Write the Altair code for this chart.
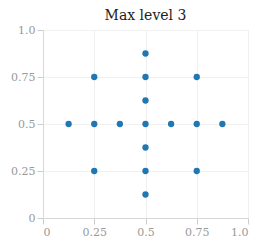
import altair as alt
import pandas as pd

xs = [0.5, 0.5, 0.5, 0.5, 0.5, 0.5, 0.5, 0.125, 0.25, 0.375, 0.625, 0.75, 0.875, 0.25, 0.75, 0.25, 0.75]
ys = [0.875, 0.75, 0.625, 0.5, 0.375, 0.25, 0.125, 0.5, 0.5, 0.5, 0.5, 0.5, 0.5, 0.75, 0.75, 0.25, 0.25]
tick_vals = [0, 0.25, 0.5, 0.75, 1.0]

df = pd.DataFrame({"x": xs, "y": ys})

font = "DejaVu Serif"
label_expr = "datum.value == 1 ? '1.0' : format(datum.value, '')"

axis_common = dict(
    values=tick_vals,
    labelExpr=label_expr,
    title=None,
    labelFont=font,
    labelFontSize=11,
    labelColor="#999999",
    domainColor="#d8d8d8",
    tickColor="#cccccc",
    tickSize=6,
    gridColor="#f0f0f0",
    labelPadding=2,
)

chart = (
    alt.Chart(df)
    .mark_circle(size=40, opacity=1, color="#1f77b4")
    .encode(
        x=alt.X("x:Q", scale=alt.Scale(domain=[0, 1], nice=False),
                axis=alt.Axis(**axis_common)),
        y=alt.Y("y:Q", scale=alt.Scale(domain=[0, 1], nice=False),
                axis=alt.Axis(**axis_common)),
    )
    .properties(
        width=205,
        height=188,
        padding={"left": 2, "top": 1, "right": 5, "bottom": 5},
        title=alt.TitleParams("Max level 3", font=font, fontSize=14, fontWeight="normal", color="#222222", offset=1),
    )
    .configure_view(stroke="#d8d8d8")
)

chart.save("out.html", embed_options={"renderer": "svg", "actions": False})
